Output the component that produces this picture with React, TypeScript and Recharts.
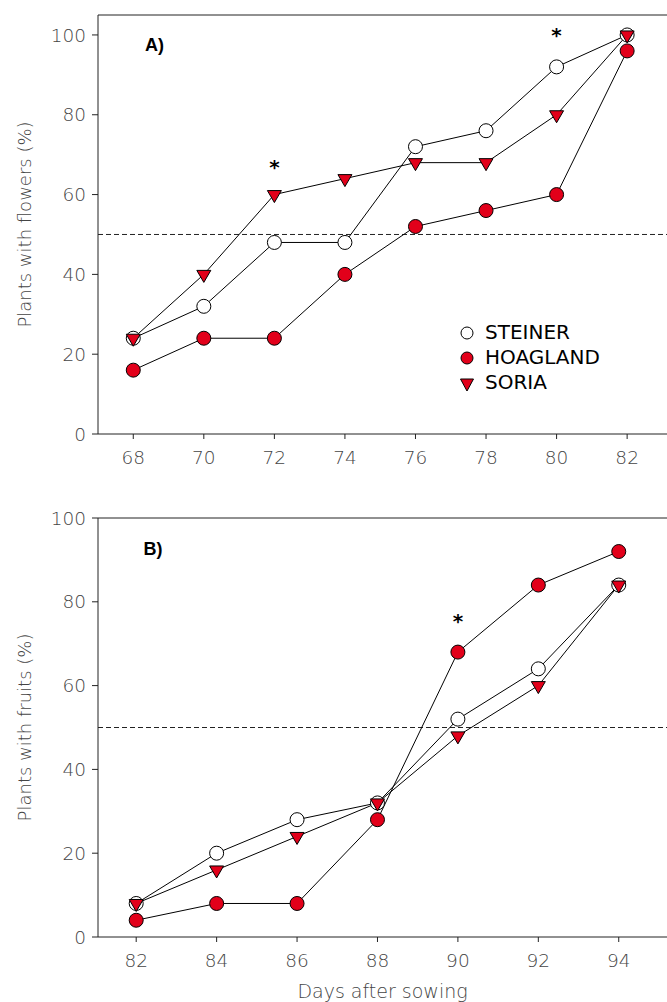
import React from 'react';
import { LineChart, Line, XAxis, YAxis, ReferenceLine, ReferenceDot, Legend } from 'recharts';

const daysA = [68, 70, 72, 74, 76, 78, 80, 82];
const steinerA = [24, 32, 48, 48, 72, 76, 92, 100];
const hoaglandA = [16, 24, 24, 40, 52, 56, 60, 96];
const soriaA = [24, 40, 60, 64, 68, 68, 80, 100];

const daysB = [82, 84, 86, 88, 90, 92, 94];
const steinerB = [8, 20, 28, 32, 52, 64, 84];
const hoaglandB = [4, 8, 8, 28, 68, 84, 92];
const soriaB = [8, 16, 24, 32, 48, 60, 84];

const yTicks = [0, 20, 40, 60, 80, 100];
const starsA = [{ day: 72, value: 67 }, { day: 80, value: 100 }];
const starsB = [{ day: 90, value: 75.5 }];

const RED = '#e2001a';
const AXIS = '#222';
const TICK_FILL = '#444';
const FONT = '"DejaVu Sans", sans-serif';

const seriesNames = ['STEINER', 'HOAGLAND', 'SORIA'];

function build(days: number[], a: number[], b: number[], c: number[]) {
  return days.map((d, i) => ({ day: d, STEINER: a[i], HOAGLAND: b[i], SORIA: c[i] }));
}

const dataA = build(daysA, steinerA, hoaglandA, soriaA);
const dataB = build(daysB, steinerB, hoaglandB, soriaB);

const triPoints = (cx: number, cy: number, w: number, h: number) =>
  `${cx - w},${cy - h / 3} ${cx + w},${cy - h / 3} ${cx},${cy + (2 * h) / 3}`;

const TriDot = (props: any) => {
  const { cx, cy, index } = props;
  if (cx == null || cy == null) return <g key={`t-${index}`} />;
  return (
    <polygon key={`t-${index}`} points={triPoints(cx, cy, 7, 12)} fill={RED} stroke="#000" strokeWidth={1} />
  );
};

const LegendContent = () => {
  return (
    <div style={{ fontFamily: FONT, fontSize: 20, color: '#000', lineHeight: '25px' }}>
      {seriesNames.map((name) => (
        <div key={name} style={{ display: 'flex', alignItems: 'center', height: 25 }}>
          <svg width={20} height={20} style={{ marginRight: 8 }}>
            {name === 'SORIA' ? (
              <polygon points={triPoints(10, 10, 6.5, 12)} fill={RED} stroke="#000" strokeWidth={1} />
            ) : (
              <circle cx={10} cy={10} r={6} fill={name === 'STEINER' ? '#fff' : RED} stroke="#000" strokeWidth={1} />
            )}
          </svg>
          <span>{name}</span>
        </div>
      ))}
    </div>
  );
};

const tickStyle = { fill: TICK_FILL, fontSize: 18.5, fontFamily: FONT, fontWeight: 200 };

function Panel(props: {
  data: any[];
  days: number[];
  xDomain: [number, number];
  yMax: number;
  height: number;
  xAxisHeight: number;
  yLabel: string;
  stars: { day: number; value: number }[];
  tag: string;
  tagPos: { day: number; value: number };
  showLegend: boolean;
  xLabel?: string;
}) {
  const { data, days, xDomain, yMax, height, xAxisHeight, yLabel, stars, tag, tagPos, showLegend, xLabel } = props;
  return (
    <LineChart width={667} height={height} data={data} margin={{ top: 15, right: 0, bottom: 0, left: 0 }}>
      <XAxis
        type="number"
        dataKey="day"
        domain={xDomain}
        ticks={days}
        allowDataOverflow
        height={xAxisHeight}
        tickSize={5}
        tickMargin={12}
        tick={tickStyle}
        stroke={AXIS}
        tickLine={{ stroke: AXIS }}
        axisLine={{ stroke: AXIS }}
        label={
          xLabel
            ? { value: xLabel, position: 'insideBottom', offset: 4, fill: TICK_FILL, fontSize: 19, fontFamily: FONT, fontWeight: 200 }
            : undefined
        }
      />
      <YAxis
        type="number"
        domain={[0, yMax]}
        ticks={yTicks}
        allowDataOverflow
        width={98}
        tickSize={6}
        tickMargin={6}
        tick={tickStyle}
        stroke={AXIS}
        tickLine={{ stroke: AXIS }}
        axisLine={{ stroke: AXIS }}
        label={{
          value: yLabel,
          angle: -90,
          position: 'insideLeft',
          offset: 25,
          style: { textAnchor: 'middle' },
          fill: TICK_FILL,
          fontSize: 18,
          fontFamily: FONT,
          fontWeight: 200,
        }}
      />
      <ReferenceLine y={yMax} stroke={AXIS} strokeWidth={1} />
      <ReferenceLine y={50} stroke={AXIS} strokeWidth={1} strokeDasharray="5 3" />
      {stars.map((s, i) => (
        <ReferenceDot
          key={`star-${i}`}
          x={s.day}
          y={s.value}
          r={0}
          fill="none"
          stroke="none"
          label={{ value: '*', position: 'center', fontSize: 20, fontWeight: 700, fill: '#000', fontFamily: 'DejaVu Sans' }}
        />
      ))}
      <ReferenceDot
        x={tagPos.day}
        y={tagPos.value}
        r={0}
        fill="none"
        stroke="none"
        label={{ value: tag, position: 'center', fontSize: 18, fontWeight: 900, fill: '#000', fontFamily: '"Liberation Sans", Arial, sans-serif' }}
      />
      <Line
        name="STEINER"
        dataKey="STEINER"
        type="linear"
        stroke="#000"
        strokeWidth={1}
        dot={{ r: 7, fill: '#fff', stroke: '#000', strokeWidth: 1 }}
        activeDot={false}
        isAnimationActive={false}
      />
      <Line
        name="HOAGLAND"
        dataKey="HOAGLAND"
        type="linear"
        stroke="#000"
        strokeWidth={1}
        dot={{ r: 7, fill: RED, stroke: '#000', strokeWidth: 1 }}
        activeDot={false}
        isAnimationActive={false}
      />
      <Line
        name="SORIA"
        dataKey="SORIA"
        type="linear"
        stroke="#000"
        strokeWidth={1}
        dot={TriDot}
        activeDot={false}
        isAnimationActive={false}
      />
      {showLegend && (
        <Legend
          layout="horizontal"
          verticalAlign="middle"
          align="center"
          content={LegendContent}
          wrapperStyle={{ position: 'absolute', left: 457, top: 320, width: 200, height: 80, bottom: 'auto' }}
        />
      )}
    </LineChart>
  );
}

export default function App() {
  return (
    <div style={{ position: 'absolute', left: 0, top: 0, width: 667, height: 1002, background: '#fff' }}>
      <div style={{ position: 'absolute', left: 0, top: 0 }}>
        <Panel
          data={dataA}
          days={daysA}
          xDomain={[67, 83.13]}
          yMax={105}
          height={494}
          xAxisHeight={60}
          yLabel="Plants with flowers (%)"
          stars={starsA}
          tag="A)"
          tagPos={{ day: 68.6, value: 97.5 }}
          showLegend
        />
      </div>
      <div style={{ position: 'absolute', left: 0, top: 503 }}>
        <Panel
          data={dataB}
          days={daysB}
          xDomain={[81.05, 95.2]}
          yMax={100}
          height={499}
          xAxisHeight={65}
          yLabel="Plants with fruits (%)"
          stars={starsB}
          tag="B)"
          tagPos={{ day: 82.42, value: 92.8 }}
          showLegend={false}
          xLabel="Days after sowing"
        />
      </div>
    </div>
  );
}
